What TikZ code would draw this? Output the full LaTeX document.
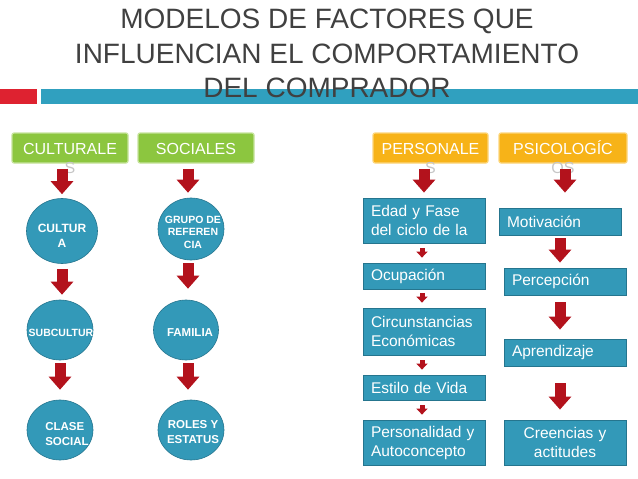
\documentclass[tikz,border=0pt]{standalone}
\usepackage{fontspec}
\setmainfont{Liberation Sans}
\usetikzlibrary{calc,arrows.meta,shapes.geometric}

\definecolor{barred}{HTML}{DE2230}
\definecolor{barblue}{HTML}{30A0BF}
\definecolor{titlegray}{HTML}{404040}
\definecolor{hdrgreen}{HTML}{8CC63F}
\definecolor{hdrgreenedge}{HTML}{C6E39C}
\definecolor{hdrorange}{HTML}{F7B318}
\definecolor{hdrorangeedge}{HTML}{FCD67C}
\definecolor{boxblue}{HTML}{3399B8}
\definecolor{boxedge}{HTML}{25758E}
\definecolor{arrred}{HTML}{B3121C}

% header text: first line inside the box, the rest runs out below it
\newcommand{\hdrtext}[2]{\begin{tabular}[t]{@{}c@{}}#1\\\color{gray!45}#2\end{tabular}}

\tikzset{
  title/.style={anchor=base, text=titlegray, inner sep=0pt,
    font=\fontsize{28}{34}\selectfont},
  hdr/.style={rectangle, rounded corners=2pt, minimum height=30pt,
    inner sep=0pt, line width=1.2pt, text=white,
    font=\fontsize{16}{19}\selectfont, text height=12pt, text depth=0pt},
  circ/.style={ellipse, fill=boxblue, draw=boxedge, line width=0.6pt,
    inner sep=0pt},
  ctxt/.style={text=white, align=center, inner sep=0pt,
    font=\bfseries\fontsize{12}{15}\selectfont},
  blk/.style={rectangle, fill=boxblue, draw=boxedge, line width=0.8pt,
    text=white, inner xsep=8pt, inner ysep=0pt, text width=106pt,
    align=left, font=\fontsize{15.5}{19}\selectfont},
  bigarr/.style={draw=arrred, line width=11pt,
    -{Triangle[width=22pt,length=13pt]}},
  smallarr/.style={draw=arrred, line width=5pt,
    -{Triangle[width=11pt,length=6pt]}},
}

\begin{document}
\begin{tikzpicture}[x=1pt,y=-1pt]
  \useasboundingbox (0,0) rectangle (638,479);

  % bars under the title
  \fill[barred] (0,89) rectangle (37,104);
  \fill[barblue] (41,89) rectangle (638,104);

  \node[title] (title1) at (327,28) {MODELOS DE FACTORES QUE};
  \node[title] (title2) at (327,63) {INFLUENCIAN EL COMPORTAMIENTO};
  \node[title] (title3) at (327,97) {DEL COMPRADOR};

  % headers
  \node[hdr, fill=hdrgreen, draw=hdrgreenedge, minimum width=116pt]
    (cultH) at (70,148) {\hdrtext{CULTURALE}{S}};
  \node[hdr, fill=hdrgreen, draw=hdrgreenedge, minimum width=116pt]
    (socH) at (196,148) {\hdrtext{SOCIALES}{}};
  \node[hdr, fill=hdrorange, draw=hdrorangeedge, minimum width=115pt]
    (persH) at (430.5,148) {\hdrtext{PERSONALE}{S}};
  \node[hdr, fill=hdrorange, draw=hdrorangeedge, minimum width=128pt]
    (psicH) at (563,148) {\hdrtext{PSICOLOGÍC}{OS}};

  % culturales
  \node[circ, minimum width=71pt, minimum height=65pt,
    label={[ctxt, yshift=-5pt]center:CULTUR\\A}] (cult) at (62,231) {};
  \node[circ, minimum width=66pt, minimum height=60pt,
    label={[ctxt, xshift=1pt, yshift=-3pt, font=\bfseries\fontsize{10.5}{13}\selectfont]center:SUBCULTUR}]
    (subc) at (60,330) {};
  \node[circ, minimum width=66pt, minimum height=60pt,
    label={[ctxt, align=left, xshift=7pt, yshift=-4pt, font=\bfseries\fontsize{11.5}{15}\selectfont]center:CLASE\\SOCIAL}]
    (clase) at (60,430) {};

  % sociales
  \node[circ, minimum width=66pt, minimum height=62pt,
    label={[ctxt, xshift=2pt, yshift=-3pt, font=\bfseries\fontsize{10.5}{12.5}\selectfont]center:GRUPO DE\\REFEREN\\CIA}]
    (grupo) at (191,229) {};
  \node[circ, minimum width=65pt, minimum height=60pt,
    label={[ctxt, xshift=4pt, yshift=-3pt, font=\bfseries\fontsize{11.5}{15}\selectfont]center:FAMILIA}]
    (fam) at (186,330) {};
  \node[circ, minimum width=66pt, minimum height=60pt,
    label={[ctxt, xshift=2pt, yshift=-2pt, font=\bfseries\fontsize{11.5}{15}\selectfont]center:ROLES Y\\ESTATUS}]
    (roles) at (191,430) {};

  % personales
  \node[blk, minimum height=45pt] (edad) at (424,220.5) {Edad y Fase\\del ciclo de la};
  \node[blk, minimum height=26pt] (ocup) at (424,276) {Ocupación};
  \node[blk, minimum height=47pt] (circun) at (424,331.5) {Circunstancias\\Económicas};
  \node[blk, minimum height=25pt] (estilo) at (424,387.5) {Estilo de Vida};
  \node[blk, minimum height=45pt] (perso) at (424,442.5) {Personalidad y\\Autoconcepto};

  % psicologicos
  \node[blk, minimum height=27pt] (motiv) at (560,221.5) {Motivación};
  \node[blk, minimum height=27pt] (perc) at (565,281.5) {Percepción};
  \node[blk, minimum height=27pt] (apren) at (565,352.5) {Aprendizaje};
  \node[blk, minimum height=45pt, align=center] (creen) at (565,442.5) {Creencias y\\actitudes};

  % arrows
  \draw[bigarr] ($(cultH.south -| cult)+(0,5)$) -- ($(cult.north)+(0,-4)$);
  \draw[bigarr] ($(cult.south)+(0,5)$) -- ($(subc.north -| cult)+(0,-5)$);
  \draw[bigarr] ($(subc.south)+(0,3)$) -- ($(clase.north)+(0,-10)$);

  \draw[bigarr] ($(socH.south -| fam)+(2,5)$) -- ($(grupo.north -| fam)+(2,-5)$);
  \draw[bigarr] ($(grupo.south -| fam)+(2,3)$) -- ($(fam.north)+(2,-11)$);
  \draw[bigarr] ($(fam.south)+(2,3)$) -- ($(roles.north -| fam)+(2,-10)$);

  \draw[bigarr] ($(persH.south -| edad)+(0,5)$) -- ($(edad.north)+(0,-5)$);
  \draw[smallarr] ($(edad.south)+(-2,5)$) -- ($(ocup.north)+(-2,-5)$);
  \draw[smallarr] ($(ocup.south)+(-2,4)$) -- ($(circun.north)+(-2,-5)$);
  \draw[smallarr] ($(circun.south)+(-2,5)$) -- ($(estilo.north)+(-2,-5)$);
  \draw[smallarr] ($(estilo.south)+(-2,5)$) -- ($(perso.north)+(-2,-5)$);

  \draw[bigarr] ($(psicH.south -| perc)+(0,5)$) -- ($(motiv.north -| perc)+(0,-15)$);
  \draw[bigarr] ($(motiv.south)+(0,3)$) -- ($(perc.north -| motiv)+(0,-5)$);
  \draw[bigarr] ($(perc.south -| motiv)+(0,7)$) -- ($(apren.north -| motiv)+(0,-9)$);
  \draw[bigarr] ($(apren.south -| motiv)+(0,17)$) -- ($(creen.north -| motiv)+(0,-10)$);
\end{tikzpicture}
\end{document}
